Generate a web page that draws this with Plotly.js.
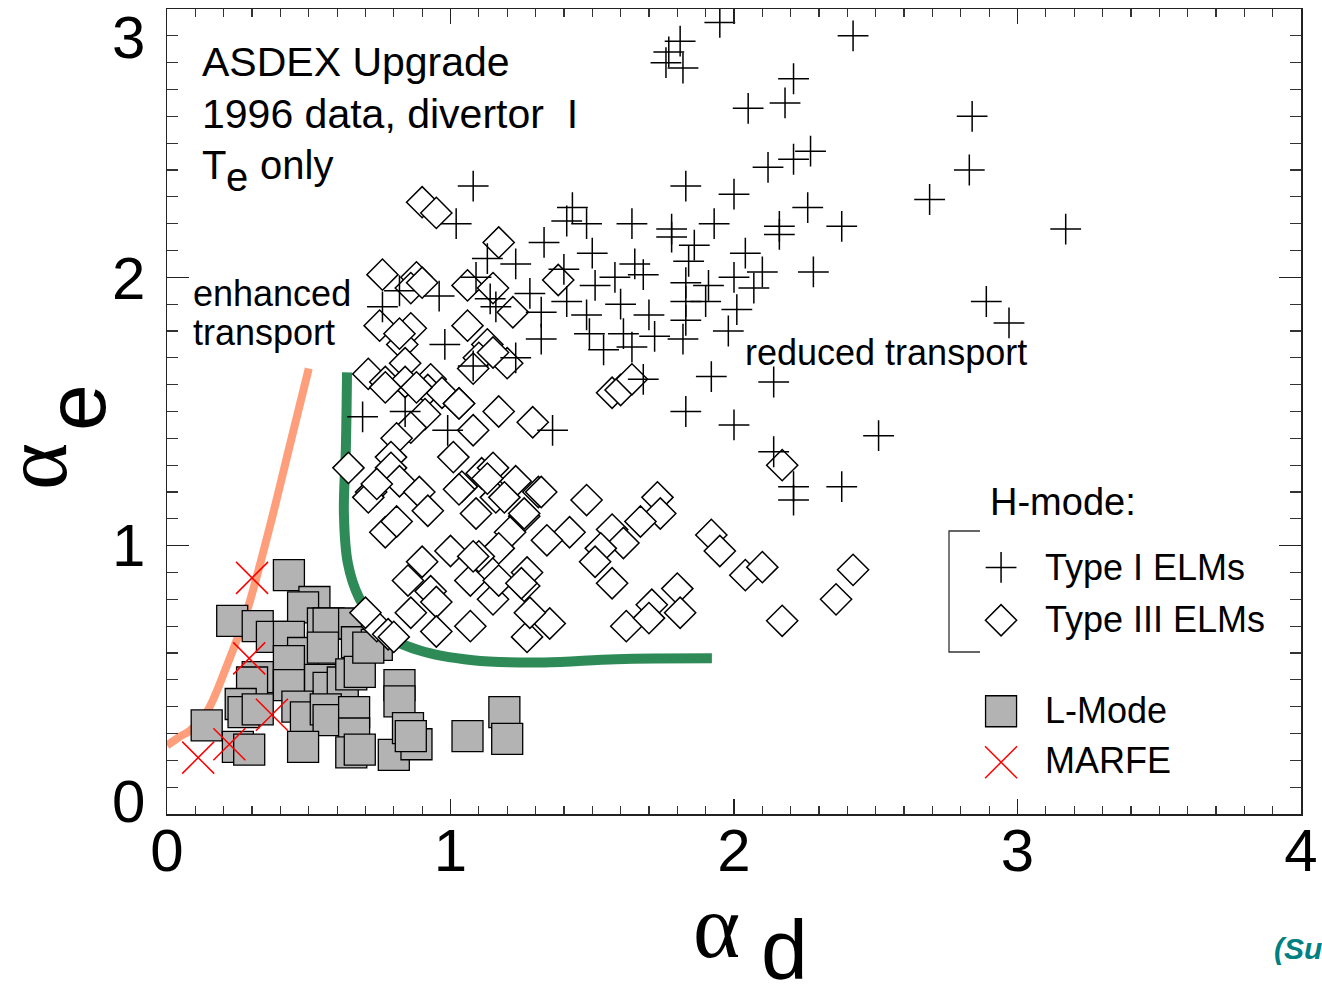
<!DOCTYPE html>
<html><head><meta charset="utf-8">
<script src="https://cdn.plot.ly/plotly-3.0.1.min.js"></script>
<style>html,body{margin:0;padding:0;background:#fff}</style>
</head><body><div id="chart" style="width:1322px;height:989px"></div>
<script>
// ---------- data ----------
const type1X = [1.95,1.81,2.42,1.77,1.76,1.82,2.21,2.05,2.18,2.84,2.27,2.21,2.12,2.83,1.83,2.00,2.69,1.43,1.41,1.48,1.64,2.26,1.93,2.16,2.16,2.38,3.17,1.33,1.78,1.86,1.78,1.50,2.04,1.84,1.65,1.68,2.10,2.28,1.40,1.51,1.58,2.00,1.91,2.07,1.83,1.41,1.60,1.32,1.48,1.70,1.83,2.01,2.89,2.97,1.98,1.49,1.61,1.54,1.64,1.82,1.72,1.32,1.92,2.14,1.68,1.83,2.00,2.51,1.36,2.14,2.21,2.21,2.38,1.08,1.02,1.13,1.23,1.09,1.14,0.96,0.82,0.76,1.28,1.16,0.98,1.23,1.08,0.69,0.84,0.99,1.90,1.83];
const type1Y = [2.95,2.88,2.90,2.84,2.80,2.78,2.74,2.63,2.65,2.60,2.47,2.44,2.41,2.40,2.34,2.31,2.29,2.26,2.21,2.20,2.20,2.26,2.20,2.19,2.16,2.19,2.18,2.13,2.18,2.12,2.15,2.09,2.09,2.06,2.05,2.01,2.02,2.02,2.03,1.97,2.00,2.00,1.97,1.96,1.98,1.91,1.90,1.87,1.86,1.86,1.84,1.88,1.91,1.83,1.80,1.79,1.79,1.73,1.74,1.77,1.78,1.77,1.63,1.61,1.62,1.50,1.45,1.41,1.43,1.35,1.22,1.17,1.22,2.34,2.20,2.07,2.05,2.00,1.92,1.93,1.95,1.89,1.94,1.89,1.75,1.70,1.67,1.48,1.50,1.43,1.91,1.91];

const type3X = [0.90,0.95,1.17,0.76,0.88,0.86,0.90,1.06,1.15,1.38,1.06,1.22,0.75,0.86,0.83,0.82,1.13,1.10,1.08,1.20,1.15,0.84,0.71,0.77,0.84,0.93,0.92,0.97,1.03,1.17,1.29,0.91,0.86,0.81,0.79,0.79,0.64,1.01,1.08,1.11,1.15,1.23,1.31,1.57,1.60,1.64,1.73,1.48,0.72,0.82,0.89,1.04,0.77,0.81,0.92,1.03,1.09,1.16,1.26,1.21,1.17,1.10,1.00,0.90,0.85,0.93,0.95,1.07,1.15,1.26,1.27,0.86,0.95,1.07,1.27,1.35,1.42,1.34,1.57,1.61,1.53,1.51,1.57,1.74,1.67,1.62,1.71,1.80,1.81,1.70,1.92,1.95,2.04,2.10,2.17,2.17,2.36,2.42,0.74,0.78,0.70,0.71,0.88,0.77,1.13,0.74,1.19,1.26,1.32,1.17,1.25,1.28,1.08,0.80,1.03];
const type3Y = [2.28,2.24,2.13,2.01,2.00,1.96,1.98,1.97,1.96,1.99,1.82,1.87,1.82,1.81,1.75,1.79,1.75,1.70,1.66,1.68,1.72,1.68,1.64,1.61,1.61,1.62,1.58,1.57,1.53,1.50,1.46,1.49,1.44,1.40,1.33,1.29,1.29,1.33,1.43,1.27,1.29,1.24,1.20,1.57,1.58,1.62,1.18,1.17,1.20,1.24,1.20,1.22,1.05,1.09,1.13,1.21,1.12,1.18,1.11,1.05,0.99,0.96,0.98,0.94,0.87,0.83,0.79,0.87,0.80,0.85,0.90,0.75,0.68,0.70,0.66,0.71,1.05,1.02,1.06,1.01,0.99,0.94,0.86,1.12,1.09,0.70,0.78,0.84,0.75,0.73,1.04,0.98,0.89,0.92,1.30,0.72,0.80,0.91,0.70,0.67,0.75,1.18,1.59,1.59,1.25,1.23,1.18,1.12,1.20,0.87,0.86,0.75,0.96,0.66,1.53];

const lModeX = [0.43,0.52,0.48,0.23,0.32,0.37,0.55,0.57,0.66,0.43,0.48,0.55,0.67,0.74,0.43,0.32,0.30,0.43,0.54,0.57,0.62,0.65,0.68,0.26,0.27,0.32,0.46,0.49,0.56,0.57,0.66,0.66,0.82,0.82,0.14,0.25,0.29,0.48,0.65,0.68,0.80,0.85,0.88,0.86,1.06,1.19,1.20,0.71];
const lModeY = [0.89,0.79,0.77,0.72,0.70,0.66,0.71,0.71,0.71,0.66,0.60,0.62,0.64,0.63,0.57,0.51,0.49,0.48,0.50,0.47,0.49,0.52,0.53,0.41,0.38,0.39,0.40,0.36,0.39,0.35,0.38,0.30,0.48,0.42,0.33,0.25,0.24,0.25,0.23,0.24,0.22,0.32,0.26,0.29,0.29,0.38,0.28,0.62];

const marfeX = [0.30,0.29,0.37,0.22,0.11];
const marfeY = [0.88,0.58,0.37,0.26,0.21];

// hand-drawn boundary curves
const enhancedX = [0.00,0.04,0.08,0.14,0.21,0.28,0.36,0.43,0.50];
const enhancedY = [0.255,0.285,0.31,0.38,0.55,0.75,1.06,1.36,1.66];
const reducedX = [0.635,0.631,0.624,0.638,0.677,0.765,0.889,1.079,1.330,1.584,1.922];
const reducedY = [1.646,1.366,1.120,0.934,0.807,0.673,0.610,0.573,0.565,0.577,0.580];

// axis ticks
const xTickVals = [0,1,2,3,4];
const xTickText = ['0','1','2','3','4'];
const yTickVals = [0,1,2,3];
const yTickText = ['0','1','2','3'];

// legend
const legendLabels = ['Type I ELMs','Type III ELMs','L-Mode','MARFE'];
const legendSampleX = [2.942];
const legendSampleY = [0.919, 0.722, 0.383, 0.193];

// ---------- layout helpers ----------
const FONT = 'Liberation Sans, Arial, Helvetica, sans-serif';
const L = 167, T = 9, W = 1134, H = 805;
const PX = p => (p - L) / W;
const PY = p => (T + H - p) / H;

const traces = [
  {x: enhancedX, y: enhancedY, mode: 'lines', line: {color: '#FF9E7A', width: 8, shape: 'spline'}, hoverinfo: 'skip'},
  {x: reducedX, y: reducedY, mode: 'lines', line: {color: '#2E8B57', width: 10, shape: 'spline'}, hoverinfo: 'skip'},
  {x: lModeX, y: lModeY, mode: 'markers', marker: {symbol: 'square', size: 31, color: '#B3B3B3', line: {color: '#000', width: 1.3}}},
  {x: type3X, y: type3Y, mode: 'markers', marker: {symbol: 'diamond', size: 24, color: '#FFFFFF', line: {color: '#000', width: 1.5}}},
  {x: type1X, y: type1Y, mode: 'markers', marker: {symbol: 'cross-thin', size: 22, color: '#000', line: {color: '#000', width: 1.5}}},
  {x: marfeX, y: marfeY, mode: 'markers', marker: {symbol: 'x-thin', size: 32, color: '#F00', line: {color: '#FF0000', width: 1.5}}},
  // legend samples
  {x: legendSampleX, y: [legendSampleY[0]], mode: 'markers', marker: {symbol: 'cross-thin', size: 22, line: {color: '#000', width: 1.5}}},
  {x: legendSampleX, y: [legendSampleY[1]], mode: 'markers', marker: {symbol: 'diamond', size: 24, color: '#FFF', line: {color: '#000', width: 1.5}}},
  {x: legendSampleX, y: [legendSampleY[2]], mode: 'markers', marker: {symbol: 'square', size: 31, color: '#B3B3B3', line: {color: '#000', width: 1.3}}},
  {x: legendSampleX, y: [legendSampleY[3]], mode: 'markers', marker: {symbol: 'x-thin', size: 32, line: {color: '#FF0000', width: 1.5}}}
];

const ann = [];
function txt(text, x, y, size, opts) {
  ann.push(Object.assign({text: text, xref: 'paper', yref: 'paper', x: PX(x), y: PY(y),
    xanchor: 'left', yanchor: 'middle', showarrow: false,
    font: {family: FONT, size: size, color: '#000'}}, opts || {}));
}
txt('ASDEX Upgrade', 200, 62, 41);
txt('1996 data, divertor\u00a0\u00a0I', 200, 114, 41);
txt('T', 200, 165, 40);
txt('e', 224, 177, 40);
txt('only', 258, 165, 40);
txt('enhanced', 191, 293, 36);
txt('transport', 191, 333, 36);
txt('reduced transport', 743, 352, 36);
txt('H-mode:', 988, 502, 38);
const legendTextY = [567, 619, 710, 760];
legendLabels.forEach((s, i) => txt(s, 1043, legendTextY[i], 36));
// y tick labels (shifted inward at the ends, as in the original)
const yTickPix = [801, 545, 278, 37];
yTickText.forEach((s, i) => txt(s, 147, yTickPix[i], 60, {xanchor: 'right'}));
// axis titles
txt('\u03b1', 716, 927, 90, {xanchor: 'center', font: {family: 'Liberation Serif, serif', size: 90, color: '#000'}});
txt('d', 784, 950, 84, {xanchor: 'center'});
txt('\u03b1', 36, 467, 90, {xanchor: 'center', textangle: -90, font: {family: 'Liberation Serif, serif', size: 90, color: '#000'}});
txt('e', 76, 408, 84, {xanchor: 'center', textangle: -90});
txt('<b><i>(Su</i></b>', 1272, 948, 30, {font: {family: FONT, size: 30, color: '#008080'}});

const axisCommon = {
  showline: true, linecolor: '#222', linewidth: 1.5, mirror: 'allticks',
  ticks: 'inside', tickcolor: '#222', tickwidth: 1.5,
  showgrid: false, zeroline: false, fixedrange: true
};

const layout = {
  width: 1322, height: 989,
  margin: {l: L, r: 1322 - L - W, t: T, b: 989 - T - H, pad: 0},
  paper_bgcolor: '#fff', plot_bgcolor: '#fff',
  showlegend: false, hovermode: false,
  xaxis: Object.assign({}, axisCommon, {
    range: [0, 4], tickmode: 'array', tickvals: xTickVals, ticktext: xTickText, ticklen: 15,
    tickfont: {family: FONT, size: 60, color: '#000'}, ticklabelstandoff: -17,
    minor: {tickmode: 'linear', tick0: 0, dtick: 0.1, ticks: 'inside', ticklen: 8, tickwidth: 1.2, tickcolor: '#333', showgrid: false}
  }),
  yaxis: Object.assign({}, axisCommon, {
    range: [0, 3], tickmode: 'array', tickvals: yTickVals, ticktext: yTickText, ticklen: 22,
    showticklabels: false,
    minor: {tickmode: 'linear', tick0: 0, dtick: 0.1, ticks: 'inside', ticklen: 11, tickwidth: 1.2, tickcolor: '#333', showgrid: false}
  }),
  shapes: [{
    type: 'path', xref: 'paper', yref: 'paper',
    path: 'M ' + PX(980) + ' ' + PY(531) + ' L ' + PX(949) + ' ' + PY(531) + ' L ' + PX(949) + ' ' + PY(652) + ' L ' + PX(980) + ' ' + PY(652),
    line: {color: '#333', width: 1.3}
  }],
  annotations: ann
};

Plotly.newPlot('chart', traces, layout, {displayModeBar: false, staticPlot: true});
</script>
</body></html>
